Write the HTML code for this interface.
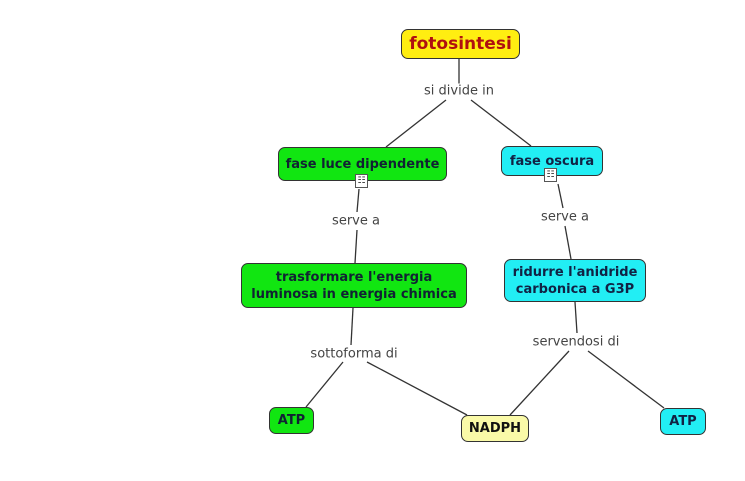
<!DOCTYPE html>
<html><head><meta charset="utf-8"><style>
body{margin:0;width:745px;height:481px;background:#fff;position:relative;overflow:hidden;font-family:"DejaVu Sans","Liberation Sans",sans-serif;}
.n{position:absolute;box-sizing:border-box;border:1.5px solid #333;border-radius:7px;display:flex;align-items:center;justify-content:center;text-align:center;font-weight:bold;font-size:13px;color:#114;line-height:17px;}
.g{background:#11e611;color:#123;}
.c{background:#22eef4;color:#124;}
.l{position:absolute;font-size:13px;color:#444;background:#fff;transform:translate(-50%,-50%);white-space:nowrap;}
.ic{position:absolute;width:13px;height:14px;border:1px solid #555;background:#fff;box-sizing:border-box;font-size:9px;line-height:12px;text-align:center;color:#333;}
</style></head><body>
<svg width="745" height="481" style="position:absolute;left:0;top:0">
<g stroke="#333" stroke-width="1.3" fill="none">
<line x1="459" y1="59" x2="459" y2="84"/>
<line x1="446" y1="100" x2="386" y2="147"/>
<line x1="471" y1="100" x2="531" y2="146"/>
<line x1="359" y1="189" x2="357" y2="212"/>
<line x1="357" y1="230" x2="355" y2="263"/>
<line x1="558" y1="184" x2="563" y2="208"/>
<line x1="565" y1="226" x2="571" y2="259"/>
<line x1="353" y1="308" x2="351" y2="345"/>
<line x1="343" y1="362" x2="306" y2="407"/>
<line x1="367" y1="362" x2="467" y2="415"/>
<line x1="575" y1="302" x2="577" y2="333"/>
<line x1="569" y1="351" x2="510" y2="415"/>
<line x1="588" y1="351" x2="664" y2="408"/>
</g></svg>
<div class="n" style="left:401px;top:29px;width:119px;height:30px;background:#ffee11;color:#b01010;font-size:17px;">fotosintesi</div>
<div class="l" style="left:459px;top:91px">si divide in</div>
<div class="n g" style="left:278px;top:147px;width:169px;height:34px;">fase luce dipendente</div>
<div class="n c" style="left:501px;top:146px;width:102px;height:30px;">fase oscura</div>
<div class="ic" style="left:355px;top:174px">&#9783;</div>
<div class="ic" style="left:544px;top:168px">&#9783;</div>
<div class="l" style="left:356px;top:221px">serve a</div>
<div class="l" style="left:565px;top:217px">serve a</div>
<div class="n g" style="left:241px;top:263px;width:226px;height:45px;">trasformare l'energia<br>luminosa in energia chimica</div>
<div class="n c" style="left:504px;top:259px;width:142px;height:43px;">ridurre l'anidride<br>carbonica a G3P</div>
<div class="l" style="left:354px;top:354px">sottoforma di</div>
<div class="l" style="left:576px;top:342px">servendosi di</div>
<div class="n g" style="left:269px;top:407px;width:45px;height:27px;">ATP</div>
<div class="n" style="left:461px;top:415px;width:68px;height:27px;background:#fafaa8;color:#111;">NADPH</div>
<div class="n c" style="left:660px;top:408px;width:46px;height:27px;">ATP</div>
</body></html>
